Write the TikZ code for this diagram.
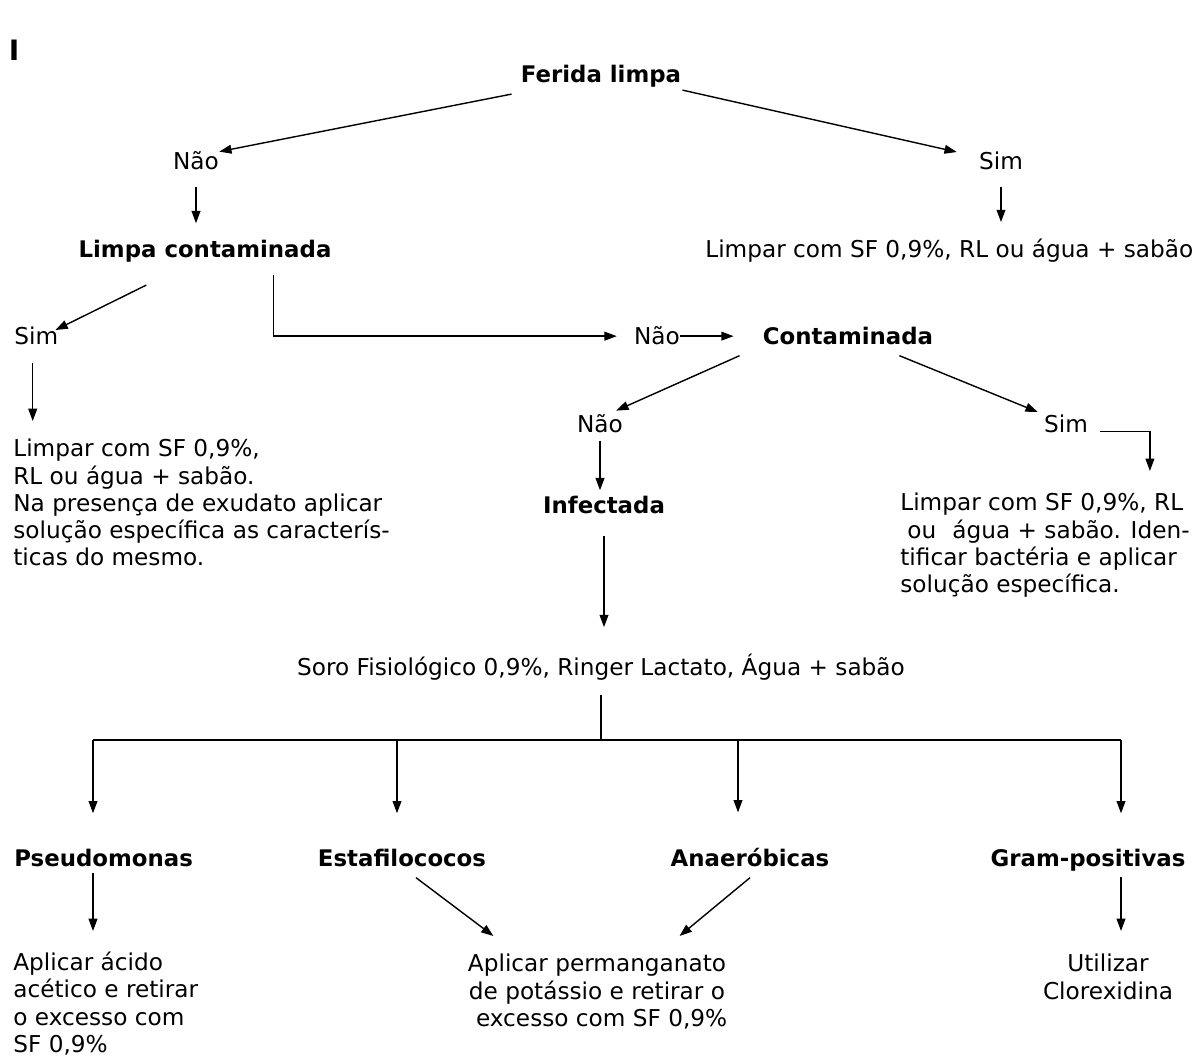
\documentclass[tikz,border=0pt]{standalone}
\usepackage{fontspec}
\setmainfont{DejaVu Sans}
\usetikzlibrary{arrows.meta,positioning}

\tikzset{
  opcao/.style={inner sep=0pt, font=\fontsize{13.2}{15.4}\selectfont},
  titulo/.style={inner sep=0pt, font=\fontsize{13}{15.4}\selectfont\bfseries},
  texto/.style={inner sep=0pt, align=left, font=\fontsize{13.2}{15.4}\selectfont},
  seta/.style={-{Triangle[length=7pt,width=5pt]}, line width=0.8pt},
  linha/.style={line width=0.8pt}
}

\begin{document}
\begin{tikzpicture}[x=0.02cm,y=-0.02cm]
    \useasboundingbox (0,0) rectangle (1200,1057);
    \node[titulo, font=\fontsize{16}{18}\selectfont\bfseries] (marca) at (14,50) {I};
    % topo
    \node[titulo, anchor=base] (ferida) at (601,83) {Ferida limpa};
    \node[opcao, anchor=base] (nao1) at (196,170) {Não};
    \node[opcao, anchor=base] (sim1) at (1001,170) {Sim};
    \node[titulo, anchor=base] (limpacont) at (205,258) {Limpa contaminada};
    \node[opcao, anchor=base west] (limpar1) at (705,258) {Limpar com SF 0,9\%, RL ou água + sabão};
    \node[opcao, anchor=base west] (sim2) at (14,345) {Sim};
    \node[opcao, anchor=base] (nao2) at (657,345) {Não};
    \node[titulo, anchor=base] (contam) at (848,345) {Contaminada};
    \node[opcao, anchor=base] (nao3) at (600,432) {Não};
    \node[opcao, anchor=base] (sim3) at (1066,432) {Sim};
    \node[titulo, anchor=base] (infect) at (604,513) {Infectada};
    \node[texto, anchor=north west] (limpar2) at (13,439) {Limpar com SF 0,9\%,\\RL ou água + sabão.\\Na presença de exudato aplicar\\solução específica as caracterís-\\ticas do mesmo.};
    \node[texto, anchor=north west] (limpar3) at (900,493) {Limpar com SF 0,9\%, RL\\\hspace{0.3em}ou\hspace{0.7em}água + sabão. Iden-\\tificar bactéria e aplicar\\solução específica.};
    \node[opcao, anchor=base] (soro) at (601,675) {Soro Fisiológico 0,9\%, Ringer Lactato, Água + sabão};
    % bactérias
    \node[titulo, anchor=base west] (pseudo) at (14,866) {Pseudomonas};
    \node[titulo, anchor=base] (estafilo) at (402,866) {Estafilococos};
    \node[titulo, anchor=base] (anaer) at (750,866) {Anaeróbicas};
    \node[titulo, anchor=base] (gram) at (1088,866) {Gram-positivas};
    \node[texto, anchor=north west] (acido) at (13,952) {Aplicar ácido\\acético e retirar\\o excesso com\\SF 0,9\%};
    \node[texto, align=center, anchor=north] (perman) at (597,954) {Aplicar permanganato\\de potássio e retirar o\\\hspace{0.4em}excesso com SF 0,9\%};
    \node[texto, align=center, anchor=north] (clorex) at (1108,954) {Utilizar\\Clorexidina};

    \draw[seta] ([shift={(-9,6)}]ferida.south west) -- (nao1.north east);
    \draw[seta] ([shift={(1,2)}]ferida.south east) -- ([shift={(-22,0)}]sim1.north west);
    \draw[seta, shorten <=0.32cm, shorten >=0.34cm] (nao1.south) -- (nao1.south |- limpacont.north);
    \draw[seta, shorten <=0.32cm, shorten >=0.34cm] (sim1.south) -- (sim1.south |- limpar1.north);
    \draw[seta] ([shift={(68,22)}]limpacont.south west) -- ([shift={(-3,3)}]sim2.north east);
    \draw[seta, shorten >=0.34cm] ([shift={(195,12)}]limpacont.south west) |- (nao2.west);
    \draw[seta, shorten >=0.58cm] (nao2.east) -- (nao2.east -| contam.west);
    \draw[seta] ([shift={(-23,10)}]contam.south west) -- ([shift={(-7,-3)}]nao3.north east);
    \draw[seta] ([shift={(-34,10)}]contam.south east) -- ([shift={(-6,-2)}]sim3.north west);
    \draw[seta] ([shift={(12,8)}]sim3.east) -| ([shift={(-40,-22)}]limpar3.north east);
    \draw[seta, shorten <=0.16cm, shorten >=0.1cm] (nao3.south) -- (nao3.south |- infect.north);
    \draw[seta, shorten <=0.34cm, shorten >=0.36cm] ([xshift=-2pt]sim2.south) -- ([xshift=-2pt]sim2.south |- limpar2.north);
    \draw[seta, shorten <=0.44cm, shorten >=0.52cm] (infect.south) -- (infect.south |- soro.north);

    % barramento
    \coordinate (juncao) at (597,740);
    \coordinate (b1) at (93,740);
    \coordinate (b2) at (397,740);
    \coordinate (b3) at (738,740);
    \coordinate (b4) at (1121,740);
    \draw[linha, shorten <=0.3cm] (soro.south) -- (soro.south |- juncao);
    \draw[linha] (b1) -- (b4);
    \foreach \b/\alvo in {b1/pseudo, b2/estafilo, b3/anaer, b4/gram}
        \draw[seta, shorten >=0.7cm] (\b) -- (\b |- \alvo.north);

    \draw[seta, shorten <=0.12cm, shorten >=0.42cm] (pseudo.south -| b1) -- (b1 |- acido.north);
    \draw[seta] ([shift={(14,11)}]estafilo.south) -- ([shift={(27,-18)}]perman.north west);
    \draw[seta] ([shift={(0,11)}]anaer.south) -- ([shift={(-48,-18)}]perman.north east);
    \draw[seta, shorten <=0.12cm, shorten >=0.46cm] (gram.south -| b4) -- (b4 |- clorex.north);
\end{tikzpicture}
\end{document}
